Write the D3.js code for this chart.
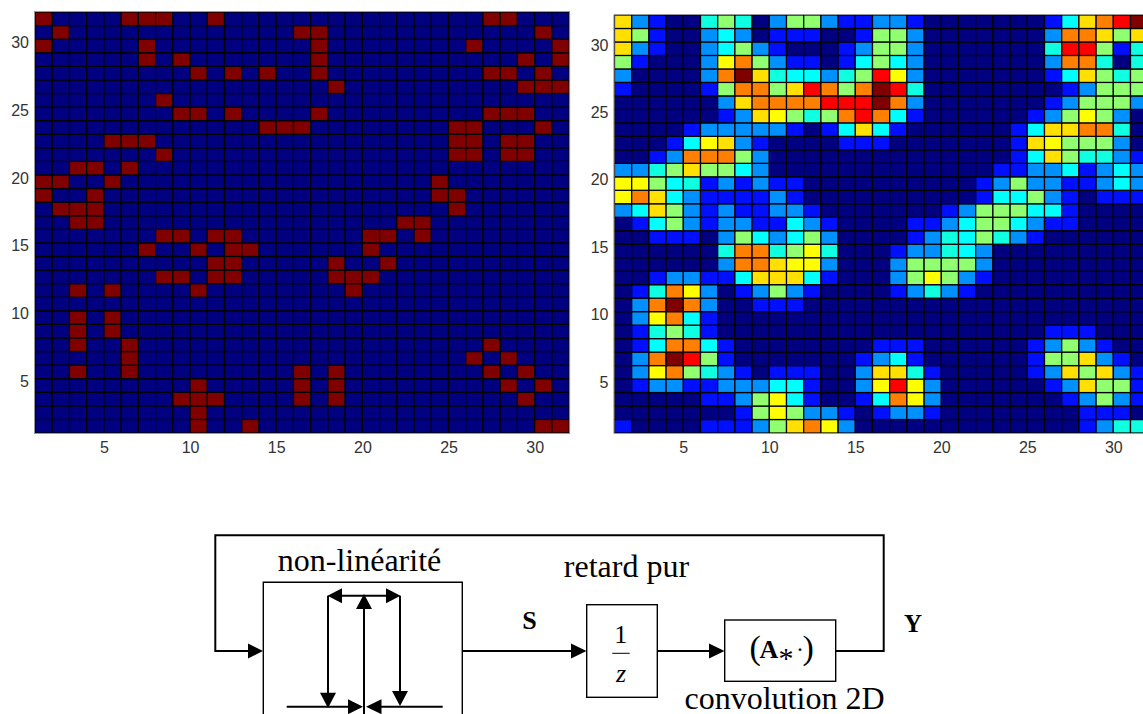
<!DOCTYPE html>
<html>
<head>
<meta charset="utf-8">
<script src="https://cdn.jsdelivr.net/npm/d3@7"></script>
<style>
html,body{margin:0;padding:0;background:#fff;overflow:hidden}
svg{display:block}
</style>
</head>
<body>
<svg id="c" width="1143" height="714"></svg>
<script>
// ---- DATA ----
const xTicks = [5,10,15,20,25,30];
const yTicks = [5,10,15,20,25,30];
// Left map: for each row (index = row number) the columns that are "on"
const activeCols = {
  31:[1,6,7,8,11,27,28],
  30:[2,16,17,30],
  29:[1,7,17,26,31],
  28:[7,9,17,29,31],
  27:[10,12,14,17,27,28,30],
  26:[18,29,30,31],
  25:[8],
  24:[9,10,12,17,27,28,29],
  23:[14,15,16,25,26,30],
  22:[5,6,7,25,26,28,29],
  21:[8,25,26,28,29],
  20:[3,4,6],
  19:[1,2,5,24],
  18:[1,4,24,25],
  17:[2,3,4,25],
  16:[3,4,22,23],
  15:[8,9,11,12,20,21,23],
  14:[7,10,12,13,20],
  13:[11,12,18,21],
  12:[8,9,11,12,18,19,20],
  11:[3,5,10,19],
  10:[],
  9:[3,5],
  8:[3,5],
  7:[3,6,27],
  6:[6,26,28],
  5:[3,6,16,18,27,29],
  4:[10,16,18,28,30],
  3:[9,10,11,16,18,29],
  2:[10],
  1:[10,13,30,31]
};
// Right map: level of every cell, first line = row 31, last line = row 1
const levels = [
[7,2,1,0,0,4,5,4,0,2,5,5,2,1,1,2,2,1,0,0,0,0,0,0,0,1,3,7,8,9,10],
[7,5,1,0,0,2,3,2,0,1,1,1,0,0,1,5,5,2,0,0,0,0,0,0,0,2,8,8,7,5,7],
[7,2,1,0,0,2,3,5,2,1,0,0,0,1,2,5,5,2,0,0,0,0,0,0,0,4,9,9,5,1,4],
[5,1,0,0,0,2,6,8,5,2,1,1,0,1,3,5,3,2,0,0,0,0,0,0,0,2,8,8,4,0,4],
[2,0,0,0,0,2,8,10,7,4,3,3,2,4,5,9,6,2,0,0,0,0,0,0,0,1,3,7,5,4,5],
[1,0,0,0,0,1,5,8,8,5,7,9,8,5,8,10,9,4,0,0,0,0,0,0,0,0,1,2,5,5,5],
[0,0,0,0,0,0,2,7,8,8,8,8,9,9,9,10,8,2,0,0,0,0,0,0,0,1,2,5,5,5,2],
[0,0,0,0,0,0,1,2,7,6,5,4,5,8,9,8,3,1,0,0,0,0,0,0,1,2,5,6,5,2,0],
[0,0,0,0,1,2,2,2,2,2,1,0,1,3,7,3,1,0,0,0,0,0,0,1,3,7,7,8,8,4,0],
[0,0,0,1,3,6,7,2,1,0,0,0,0,1,1,1,0,0,0,0,0,0,0,1,7,6,5,5,5,2,0],
[0,0,1,2,8,8,8,5,2,0,0,0,0,0,0,0,0,0,0,0,0,0,0,1,3,7,5,4,4,2,1],
[2,2,4,5,7,5,5,3,2,0,0,0,0,0,0,0,0,0,0,0,0,0,1,1,2,2,3,1,2,3,2],
[6,6,5,3,4,1,2,1,2,1,1,0,0,0,0,0,0,0,0,0,0,1,2,5,2,2,1,1,2,3,2],
[6,8,7,3,2,1,1,1,1,2,1,0,0,0,0,0,0,0,0,0,0,1,3,3,5,2,1,0,1,1,1],
[2,3,7,5,2,1,2,1,1,2,2,1,0,0,0,0,0,0,0,1,2,5,5,5,3,3,1,0,0,0,0],
[0,1,3,5,2,1,2,2,1,1,3,2,1,0,0,0,0,1,1,2,3,5,5,3,2,1,1,0,0,0,0],
[0,0,1,1,1,0,2,5,3,2,3,5,2,0,0,0,0,1,2,4,3,5,4,2,1,0,0,0,0,0,0],
[0,0,0,0,0,0,4,8,8,4,5,6,4,0,0,0,1,2,2,4,3,2,0,0,0,0,0,0,0,0,0],
[0,0,0,0,0,0,2,8,8,7,6,6,2,0,0,0,2,5,5,5,5,2,0,0,0,0,0,0,0,0,0],
[0,0,1,2,2,1,1,3,7,7,7,3,1,0,0,0,2,5,6,5,2,1,0,0,0,0,0,0,0,0,0],
[0,1,4,8,6,2,0,1,2,5,2,1,0,0,0,0,1,2,4,2,1,0,0,0,0,0,0,0,0,0,0],
[0,2,8,10,8,2,0,0,1,1,1,0,0,0,0,0,0,0,0,0,0,0,0,0,0,0,0,0,0,0,0],
[0,2,6,8,3,1,0,0,0,0,0,0,0,0,0,0,0,0,0,0,0,0,0,0,0,0,0,0,0,0,0],
[0,1,4,5,4,1,0,0,0,0,0,0,0,0,0,0,0,0,0,0,0,0,0,0,0,1,1,1,0,0,0],
[0,1,3,8,8,3,1,0,0,0,0,0,0,0,0,1,1,1,0,0,0,0,0,0,1,2,5,2,1,0,0],
[0,2,8,10,9,5,1,0,0,0,0,0,0,0,1,2,3,1,0,0,0,0,0,0,1,5,5,7,2,1,0],
[0,2,6,8,5,4,2,1,0,1,1,1,0,0,2,7,7,4,1,0,0,0,0,0,1,2,7,5,7,2,1],
[0,1,2,2,1,1,2,2,2,3,3,1,0,0,2,6,9,6,2,0,0,0,0,0,0,1,2,7,5,5,1],
[0,0,0,0,0,1,1,2,5,6,3,1,0,0,1,3,8,6,2,0,0,0,0,0,0,0,1,2,5,2,1],
[0,0,0,0,0,0,0,1,5,6,5,2,2,1,0,1,2,2,1,0,0,0,0,0,0,0,0,1,1,1,0],
[1,0,0,0,0,1,1,1,2,5,7,8,6,2,0,0,0,0,0,0,0,0,0,0,0,0,0,1,2,4,4]
];
const binaryColors = ["#000080","#800000"];
const levelColors = ["#000080","#0010ff","#0090ff","#00ffff","#10ffe0","#90ff70","#ffff00","#ffe000","#ff8000","#ff0000","#800000"];

// ---- MAPS ----
const svg = d3.select("#c");
const domain = [1,32];
const indices = d3.range(1,32);

function drawMap(box, cellValue, colors){
  const x = d3.scaleLinear().domain(domain).range([box.left, box.left + box.cellW*31]);
  const y = d3.scaleLinear().domain(domain).range([box.bottom, box.top]);
  const color = d3.scaleOrdinal().domain(colors.map((_,i)=>i)).range(colors);
  const g = svg.append("g");
  const cells = [];
  indices.forEach(r=>indices.forEach(c=>cells.push({r,c,v:cellValue(r,c)})));
  g.selectAll("rect.cell").data(cells).join("rect").attr("class","cell")
    .attr("x",d=>x(d.c)).attr("y",d=>y(d.r+1))
    .attr("width",d=>x(d.c+1)-x(d.c)).attr("height",d=>y(d.r)-y(d.r+1))
    .attr("fill",d=>color(d.v)).attr("stroke","#000").attr("stroke-width",1.25);
  const ax = g.append("g").attr("transform",`translate(0,${box.bottom+20})`)
    .call(d3.axisBottom(x).tickValues(xTicks).tickSize(0).tickPadding(0));
  const ay = g.append("g").attr("transform",`translate(${box.left-6},3)`)
    .call(d3.axisLeft(y).tickValues(yTicks).tickSize(0).tickPadding(0));
  [ax,ay].forEach(a=>{
    a.select(".domain").remove();
    a.selectAll("text").attr("font-family","'Liberation Sans',Arial,sans-serif")
      .attr("font-size",16).attr("fill","#333");
  });
  ax.selectAll("text").attr("dy",null).attr("y",0);
  // pale outer frame of the axes
  g.append("path").attr("fill","none").attr("stroke","#999").attr("stroke-width",1)
    .attr("d",`M${box.left-0.5},${box.top}V${box.bottom+0.5}H${x(32)+0.5}V${box.top-0.5}H${box.left-0.5}`);
}
drawMap({left:35,top:12,bottom:433,cellW:17.23},
  (r,c)=>activeCols[r].includes(c)?1:0, binaryColors);
drawMap({left:614.5,top:15,bottom:433,cellW:17.2},
  (r,c)=>levels[31-r][c-1], levelColors);

// ---- BLOCK DIAGRAM ----
const d = svg.append("g");
const thick = 2, thin = 1.4;
const serif = "'Liberation Serif','Times New Roman',serif";
function line(pts,w){
  d.append("path").attr("d",d3.line()(pts)).attr("fill","none").attr("stroke","#000")
   .attr("stroke-width",w).attr("stroke-linejoin","miter");
}
function head(tip,base,half){
  const horizontal = tip[1]===base[1];
  const pts = horizontal ? [tip,[base[0],base[1]-half],[base[0],base[1]+half]]
                         : [tip,[base[0]-half,base[1]],[base[0]+half,base[1]]];
  d.append("path").attr("d",d3.line()(pts)+"Z").attr("fill","#000");
}
function box(x0,y0,x1,y1,w){
  d.append("rect").attr("x",x0).attr("y",y0).attr("width",x1-x0).attr("height",y1-y0)
   .attr("fill","none").attr("stroke","#000").attr("stroke-width",w);
}
function label(t,x,y,size,opt={}){
  d.append("text").text(t).attr("x",x).attr("y",y).attr("font-size",size)
   .attr("font-family",serif)
   .attr("text-anchor",opt.anchor||"middle")
   .attr("font-weight",opt.bold?"bold":"normal")
   .attr("font-style",opt.italic?"italic":"normal").attr("fill","#000");
}
// feedback loop
line([[248,651],[215.3,651],[215.3,535.3],[883.7,535.3],[883.7,651],[836,651]],thick);
head([263,651],[248,651],7.5);
// non-linearity block
d.append("path").attr("d","M263.3,714V582.3H462.3V714").attr("fill","none").attr("stroke","#000").attr("stroke-width",thin);
line([[342,595.7],[386,595.7]],thick); head([327.5,595.7],[342,595.7],7.5); head([400.5,595.7],[386,595.7],7.5);
line([[364,714],[364,608]],thick); head([364,594],[364,609],8);
line([[328,595.7],[328,693]],thick); head([328,708],[328,692.7],8);
line([[400,595.7],[400,691]],thick); head([400,706],[400,691],8);
line([[286.7,706.7],[349,706.7]],thick); head([363,706.7],[348,706.7],7.5);
line([[442.7,706.7],[381,706.7]],thick); head([366,706.7],[381.5,706.7],7.5);
// S path
line([[462,651],[572,651]],thick); head([586.5,651],[571,651],7.5);
// 1/z
box(586.7,604.7,657.3,697.3,thin);
line([[657,651],[710,651]],thick); head([724.5,651],[709,651],7.5);
d.append("path").attr("d","M612.3,653.3H629.7").attr("stroke","#000").attr("stroke-width",1);
// A* block
box(724.7,620,835.7,681.3,thin);
label("non-linéarité",359.5,570.5,32);
label("retard pur",626.5,577,32);
label("convolution 2D",784.5,708.5,32);
label("S",529.5,629,26,{bold:true});
label("Y",913,631.5,25,{bold:true});
label("1",620.7,643,26);
label("z",621,682,26,{italic:true});
// (A * ·) written as a single text with placed pieces
const expr = d.append("text").attr("font-family",serif).attr("fill","#000");
[
  {t:"(", x:749.5, y:659, size:34, w:"normal"},
  {t:"A", x:759.5, y:658, size:26, w:"bold"},
  {t:"*", x:778.5, y:668, size:30, w:"normal"},
  {t:"·", x:796,   y:657, size:24, w:"normal"},
  {t:")", x:802.5, y:659, size:34, w:"normal"}
].forEach(p=>{
  expr.append("tspan").text(p.t).attr("x",p.x).attr("y",p.y)
    .attr("font-size",p.size).attr("font-weight",p.w);
});
</script>
</body>
</html>
